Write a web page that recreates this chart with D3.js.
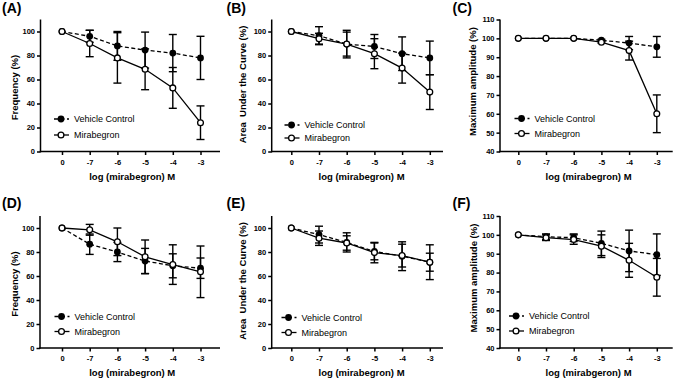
<!DOCTYPE html>
<html>
<head>
<meta charset="utf-8">
<script src="https://cdn.jsdelivr.net/npm/d3@7"></script>
<style>
  body { margin: 0; background: #fff; }
  svg { display: block; font-family: Arial, "Liberation Sans", sans-serif; }
</style>
</head>
<body>
<div id="chart"></div>
<script>
// x categories (log concentration)
var categories = ["0", "-7", "-6", "-5", "-4", "-3"];

// (A) frequency
var freqVehicleA = [100, 96, 88, 84.5, 82, 78];
var freqVehicleErrA = [0, 5, 12, 15, 15.5, 18];
var freqMiraA = [100, 90, 78, 68.5, 53, 24];
var freqMiraErrA = [0, 11, 21, 17, 17, 14];

// (B) area under the curve
var aucVehicleB = [100, 96.5, 89.5, 87.5, 81.5, 78];
var aucVehicleErrB = [0, 7.5, 11.5, 10, 14, 14];
var aucMiraB = [100, 94, 89.5, 81.5, 69.5, 49.5];
var aucMiraErrB = [0, 4.5, 10, 12.5, 12.5, 14.5];

// (C) maximum amplitude
var ampVehicleC = [100, 100, 100, 99, 97.5, 95.5];
var ampVehicleErrC = [0, 0, 0, 0.5, 3.5, 5.5];
var ampMiraC = [100, 100, 100, 98, 93.5, 60];
var ampMiraErrC = [0, 0, 0, 0.5, 5, 10];

// (D) frequency
var freqVehicleD = [100, 86.5, 80, 72.5, 68.5, 66.5];
var freqVehicleErrD = [0, 8.5, 8, 10.5, 10, 8.5];
var freqMiraD = [100, 98.5, 88.5, 76, 69.5, 63.5];
var freqMiraErrD = [0, 4.5, 11.5, 14, 16.5, 21.5];

// (E) area under the curve
var aucVehicleE = [100, 94.5, 88, 80.5, 76.5, 71.5];
var aucVehicleErrE = [0, 7, 8, 7, 12, 7.5];
var aucMiraE = [100, 91.5, 87.5, 79.5, 77, 71.5];
var aucMiraErrE = [0, 6, 6, 8.5, 9.5, 14.5];

// (F) maximum amplitude
var ampVehicleF = [100, 99, 98.5, 95.5, 91.5, 89.5];
var ampVehicleErrF = [0, 1.5, 2, 6.5, 11, 11];
var ampMiraF = [100, 98.5, 97.5, 94, 86.5, 77.5];
var ampMiraErrF = [0, 1.5, 2.5, 6, 9, 10];

var pctTicks = [0, 20, 40, 60, 80, 100];
var ampTicks = [40, 50, 60, 70, 80, 90, 100, 110];

var W = 676, H = 380;

var svg = d3.select("#chart").append("svg")
    .attr("width", W)
    .attr("height", H);

var panels = [
    { label: "(A)", ylab: "Frequency (%)", xlab: "log (mirabegron) M", veh: freqVehicleA, vehErr: freqVehicleErrA, mira: freqMiraA, miraErr: freqMiraErrA,
      yDomain: [0, 110], ticks: pctTicks, axisX: 40.5, cat0: 62, xEnd: 220, top: 19.5, bottom: 151.5, ylabX: 15, ylabShift: 2, legX: 61, legY: 119, legGap: 16 },
    { label: "(B)", ylab: "Area  Under the Curve (%)", xlab: "log (mirabegron) M", veh: aucVehicleB, vehErr: aucVehicleErrB, mira: aucMiraB, miraErr: aucMiraErrB,
      yDomain: [0, 110], ticks: pctTicks, axisX: 271.7, cat0: 291.3, xEnd: 443, top: 19.5, bottom: 151.5, ylabX: 243, ylabShift: -1, legX: 291.5, legY: 125, legGap: 13 },
    { label: "(C)", ylab: "Maximum amplitude (%)", xlab: "log (mirabegron) M", veh: ampVehicleC, vehErr: ampVehicleErrC, mira: ampMiraC, miraErr: ampMiraErrC,
      yDomain: [40, 110], ticks: ampTicks, axisX: 500, cat0: 518.3, xEnd: 672.7, top: 19.5, bottom: 151.5, ylabX: 473, ylabShift: -4, legX: 521.5, legY: 118.5, legGap: 15 },
    { label: "(D)", ylab: "Frequency (%)", xlab: "log (mirabegron) M", veh: freqVehicleD, vehErr: freqVehicleErrD, mira: freqMiraD, miraErr: freqMiraErrD,
      yDomain: [0, 110], ticks: pctTicks, axisX: 40, cat0: 62, xEnd: 220, top: 216, bottom: 348, ylabX: 15, ylabShift: 2, legX: 61.5, legY: 316.5, legGap: 15 },
    { label: "(E)", ylab: "Area  Under the Curve (%)", xlab: "log (mirabegron) M", veh: aucVehicleE, vehErr: aucVehicleErrE, mira: aucMiraE, miraErr: aucMiraErrE,
      yDomain: [0, 110], ticks: pctTicks, axisX: 271.7, cat0: 291.3, xEnd: 443, top: 216, bottom: 348, ylabX: 243, ylabShift: -1, legX: 288.5, legY: 317.5, legGap: 15 },
    { label: "(F)", ylab: "Maximum amplitude (%)", xlab: "log (mirabgeron) M", veh: ampVehicleF, vehErr: ampVehicleErrF, mira: ampMiraF, miraErr: ampMiraErrF,
      yDomain: [40, 110], ticks: ampTicks, axisX: 500, cat0: 518.3, xEnd: 672.7, top: 216, bottom: 348, ylabX: 473.5, ylabShift: -4, legX: 516, legY: 316, legGap: 15 }
];

var step = 27.7;

panels.forEach(function (p, k) {
    var g = svg.append("g");

    var x = d3.scalePoint()
        .domain(categories)
        .range([p.cat0, p.cat0 + step * (categories.length - 1)]);
    var y = d3.scaleLinear()
        .domain(p.yDomain)
        .range([p.bottom, p.top]);

    // panel letter
    g.append("text")
        .attr("x", k % 3 === 0 ? 2 : (k % 3 === 1 ? 226.5 : 452.5))
        .attr("y", p.top < 100 ? 12.5 : 207.5)
        .style("font-size", "14px")
        .style("font-weight", "bold")
        .text(p.label);

    // y axis
    var yAxis = g.append("g")
        .attr("transform", "translate(" + p.axisX + ",0)")
        .call(d3.axisLeft(y).tickValues(p.ticks).tickSize(3.5).tickPadding(2).tickFormat(d3.format("d")));
    yAxis.select(".domain").remove();
    yAxis.append("line")
        .attr("x1", 0).attr("x2", 0)
        .attr("y1", p.top).attr("y2", p.bottom + 0.75)
        .attr("stroke", "#000").attr("stroke-width", 1.5);

    // x axis
    var xAxis = g.append("g")
        .attr("transform", "translate(0," + p.bottom + ")")
        .call(d3.axisBottom(x).tickSize(3.5).tickPadding(4.5));
    xAxis.select(".domain").remove();
    xAxis.append("line")
        .attr("x1", p.axisX - 0.75).attr("x2", p.xEnd)
        .attr("y1", 0).attr("y2", 0)
        .attr("stroke", "#000").attr("stroke-width", 1.5);

    [yAxis, xAxis].forEach(function (a) {
        a.selectAll(".tick line").attr("stroke-width", 1.5);
        a.selectAll(".tick text")
            .style("font-size", "7.5px")
            .style("font-weight", "bold")
            .style("font-family", "Arial, 'Liberation Sans', sans-serif")
            .attr("fill", "#000");
    });

    // axis titles
    g.append("text")
        .attr("transform", "translate(" + p.ylabX + "," + ((p.top + p.bottom) / 2 + p.ylabShift) + ") rotate(-90)")
        .attr("text-anchor", "middle")
        .attr("dy", "0.35em")
        .style("font-size", "9.5px")
        .style("font-weight", "bold")
        .style("white-space", "pre")
        .text(p.ylab);

    g.append("text")
        .attr("x", p.cat0 + step * 2.5 + 1)
        .attr("y", p.bottom + 25)
        .attr("text-anchor", "middle")
        .attr("dy", "0.35em")
        .style("font-size", "9.5px")
        .style("font-weight", "bold")
        .text(p.xlab);

    var series = [
        { vals: p.veh, errs: p.vehErr, dash: "4,2.5", filled: true },
        { vals: p.mira, errs: p.miraErr, dash: null, filled: false }
    ];

    var line = d3.line()
        .x(function (d, i) { return x(categories[i]); })
        .y(function (d) { return y(d); });

    series.forEach(function (s) {
        // error bars
        var eb = g.append("g");
        s.vals.forEach(function (v, i) {
            var e = s.errs[i];
            if (!e) return;
            var cx = x(categories[i]);
            eb.append("line")
                .attr("x1", cx).attr("x2", cx)
                .attr("y1", y(v - e)).attr("y2", y(v + e))
                .attr("stroke", "#000").attr("stroke-width", 1.4);
            [v - e, v + e].forEach(function (w) {
                eb.append("line")
                    .attr("x1", cx - 4).attr("x2", cx + 4)
                    .attr("y1", y(w)).attr("y2", y(w))
                    .attr("stroke", "#000").attr("stroke-width", 1.4);
            });
        });

        g.append("path")
            .attr("d", line(s.vals))
            .attr("fill", "none")
            .attr("stroke", "#000")
            .attr("stroke-width", 1.3)
            .attr("stroke-dasharray", s.dash);
    });

    series.forEach(function (s) {
        g.selectAll(null)
            .data(s.vals)
            .enter().append("circle")
            .attr("cx", function (d, i) { return x(categories[i]); })
            .attr("cy", function (d) { return y(d); })
            .attr("r", s.filled ? 3.4 : 2.9)
            .attr("fill", s.filled ? "#000" : "#fff")
            .attr("stroke", "#000")
            .attr("stroke-width", s.filled ? 0 : 1.3);
    });

    // legend
    var names = ["Vehicle Control", "Mirabegron"];
    series.forEach(function (s, i) {
        var ly = p.legY + i * p.legGap;
        g.append("line")
            .attr("x1", p.legX - 7).attr("x2", p.legX + 8)
            .attr("y1", ly).attr("y2", ly)
            .attr("stroke", "#000").attr("stroke-width", 1.3)
            .attr("stroke-dasharray", s.dash);
        g.append("circle")
            .attr("cx", p.legX).attr("cy", ly)
            .attr("r", s.filled ? 3.4 : 2.9)
            .attr("fill", s.filled ? "#000" : "#fff")
            .attr("stroke", "#000")
            .attr("stroke-width", s.filled ? 0 : 1.3);
        g.append("text")
            .attr("x", p.legX + 13)
            .attr("y", ly)
            .attr("dy", "0.35em")
            .style("font-size", "9px")
            .text(names[i]);
    });
});
</script>
</body>
</html>
